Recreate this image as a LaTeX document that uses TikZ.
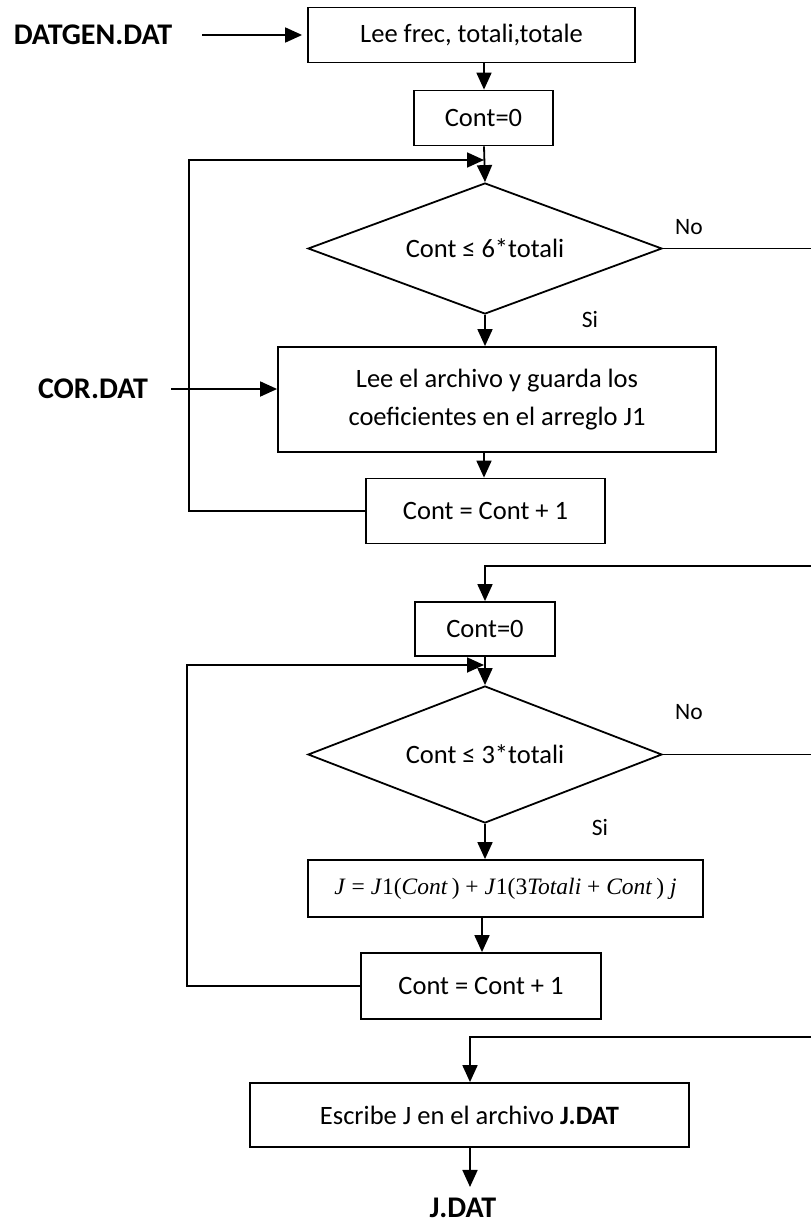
\documentclass[tikz,border=0pt]{standalone}
\usepackage{fontspec}
\setmainfont{Carlito}
\newfontfamily\formfont{Liberation Serif}
\usetikzlibrary{arrows.meta,shapes.geometric}
\begin{document}
\begin{tikzpicture}[x=1pt,y=-1pt,
  box/.style={draw, line width=1.8pt, inner sep=0pt, align=center,
    font=\fontsize{26.5}{38}\selectfont},
  cond/.style={diamond, draw, line width=1.8pt, inner sep=0pt, shape aspect=2.7,
    minimum width=354pt, font=\fontsize{26.5}{30}\selectfont},
  arr/.style={line width=1.8pt, -{Triangle[length=17pt,width=15pt]}},
  flow/.style={line width=1.8pt},
  io/.style={font=\bfseries\fontsize{30}{34}\selectfont, inner sep=0pt},
  tag/.style={font=\fontsize{23.5}{26}\selectfont, inner sep=0pt}]
\useasboundingbox (0,0) rectangle (811,1224);

% guide coordinates
\coordinate (s1) at (484,0);
\coordinate (s2) at (482,0);
\coordinate (s3) at (470,0);
\coordinate (e1) at (811,0);
\coordinate (l1) at (189,160);
\coordinate (l2) at (187,665);
\coordinate (r1) at (811,566);
\coordinate (r2) at (811,1037);

% first loop: read coefficients
\node[io] (gen) at (93,35) {DATGEN.DAT};
\node[box, minimum width=327pt, minimum height=55pt] (rd) at (471.5,35) {Lee frec, totali,totale};
\node[box, minimum width=139pt, minimum height=55pt] (c1) at (483.5,118) {Cont=0};
\node[cond, minimum height=131pt] (d1) at (485,248.5) {Cont ≤ 6*totali};
\node[tag] (no1) at (689,227) {No};
\node[tag] (si1) at (590,319) {Si};
\node[io] (cor) at (93,389) {COR.DAT};
\node[box, minimum width=438pt, minimum height=105pt] (rj) at (497,399.5)
  {Lee el archivo y guarda los\\coeficientes en el arreglo J1};
\node[box, minimum width=239pt, minimum height=65pt] (i1) at (485.5,511) {Cont = Cont + 1};

% second loop: build J
\node[box, minimum width=140pt, minimum height=54pt] (c2) at (485,629) {Cont=0};
\node[cond, minimum height=137pt] (d2) at (485,754.5) {Cont ≤ 3*totali};
\node[tag] (no2) at (689,712) {No};
\node[tag] (si2) at (600,827) {Si};
\node[box, minimum width=395pt, minimum height=57pt] (jf) at (505.5,888.5)
  {\formfont\fontsize{23.5}{28}\selectfont
   \textit{J}\ =\ \textit{J}1(\textit{Cont}\,) + \textit{J}1(3\textit{Totali}\ + \textit{Cont}\,) \textit{j}};
\node[box, minimum width=240pt, minimum height=66pt] (i2) at (481,986) {Cont = Cont + 1};

% output
\node[box, minimum width=439pt, minimum height=64pt] (wr) at (469.5,1115)
  {Escribe J en el archivo \textbf{J.DAT}};
\node[io] (jd) at (463,1208) {J.DAT};

% connectors
\draw[arr, shorten <=30pt, shorten >=5pt] (gen.east) -- (rd.west |- gen.east);
\draw[arr] (rd.south -| s1) -- (c1.north -| s1);
\draw[arr] (c1.south -| s1) -- (d1.north);
\draw[flow] (d1.east) -- (d1.east -| e1);
\draw[arr] (d1.south) -- (rj.north -| d1.south);
\draw[arr, shorten <=23pt] (cor.east) -- (rj.west |- cor.east);
\draw[arr] (rj.south -| s1) -- (i1.north -| s1);
\draw[arr] (i1.west) -| (l1) -- (l1 -| s1);

\draw[arr] (r1) -| (c2.north);
\draw[arr] (c2.south) -- (d2.north);
\draw[flow] (d2.east) -- (d2.east -| e1);
\draw[arr] (d2.south) -- (jf.north -| d2.south);
\draw[arr] (jf.south -| s2) -- (i2.north -| s2);
\draw[arr] (i2.west) -| (l2) -- (l2 -| s1);

\draw[arr] (r2) -| (wr.north -| s3);
\draw[arr, shorten >=11pt] (wr.south -| s3) -- (jd.north -| s3);
\end{tikzpicture}
\end{document}
